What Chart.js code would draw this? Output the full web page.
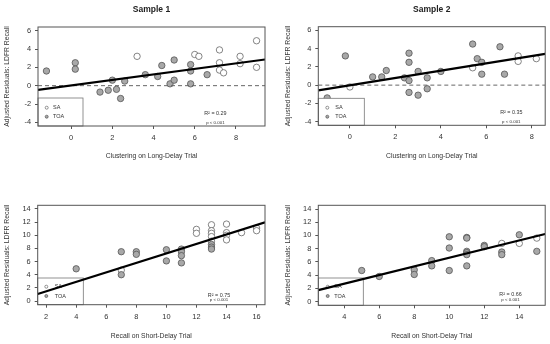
<!DOCTYPE html>
<html>
<head>
<meta charset="utf-8">
<script src="https://cdn.jsdelivr.net/npm/chart.js@4.4.1/dist/chart.umd.min.js"></script>
<style>
  body { margin: 0; background: #fff; }
  .panel { position: absolute; width: 275px; height: 172px; }
  canvas { display: block; }
</style>
</head>
<body>
<div class="panel" style="left:0;top:0"><canvas id="p1" width="275" height="172"></canvas></div>
<div class="panel" style="left:275px;top:0"><canvas id="p2" width="275" height="172"></canvas></div>
<div class="panel" style="left:0;top:172px"><canvas id="p3" width="275" height="172"></canvas></div>
<div class="panel" style="left:275px;top:172px"><canvas id="p4" width="275" height="172"></canvas></div>
<script>
// tick labels
const xTicksCluster = [0, 2, 4, 6, 8];
const yTicksCluster = [-4, -2, 0, 2, 4, 6];
const xTicksRecall1 = [2, 4, 6, 8, 10, 12, 14, 16];
const xTicksRecall2 = [4, 6, 8, 10, 12, 14];
const yTicksRecall = [0, 2, 4, 6, 8, 10, 12, 14];

// Sample 1 - clustering
const s1ClusterSA_x = [3.2, 6.0, 6.2, 7.2, 7.2, 7.2, 7.4, 8.2, 8.2, 9.0, 9.0];
const s1ClusterSA_y = [3.2, 3.4, 3.2, 3.9, 2.5, 1.7, 1.4, 3.2, 2.4, 4.9, 2.0];
const s1ClusterTOA_x = [-1.2, 0.2, 0.2, 1.4, 1.8, 2.0, 2.2, 2.4, 2.6, 3.6, 4.2, 4.4, 4.8, 5.0, 5.0, 5.8, 5.8, 5.8, 6.6];
const s1ClusterTOA_y = [1.6, 2.5, 1.8, -0.7, -0.5, 0.6, -0.4, -1.4, 0.5, 1.2, 1.0, 2.2, 0.2, 2.8, 0.6, 2.3, 1.6, 0.2, 1.2];

// Sample 2 - clustering
const s2ClusterSA_x = [0.0, 5.4, 7.4, 7.4, 8.2];
const s2ClusterSA_y = [-0.2, 1.9, 3.2, 2.6, 2.9];
const s2ClusterTOA_x = [-1.0, -0.2, 1.0, 1.4, 1.6, 2.4, 2.6, 2.6, 2.6, 2.6, 3.0, 3.0, 3.4, 3.4, 4.0, 5.4, 5.6, 5.8, 5.8, 6.6, 6.8];
const s2ClusterTOA_y = [-1.4, 3.2, 0.9, 0.9, 1.6, 0.8, 3.5, 2.5, 0.5, -0.8, 1.5, -1.1, 0.8, -0.4, 1.5, 4.5, 2.9, 2.5, 1.2, 4.2, 1.2];

// Sample 1 - short-delay recall
const s1RecallSA_x = [7, 12, 12, 13, 13, 13, 13, 13, 14, 14, 14, 14, 15, 16, 16];
const s1RecallSA_y = [4.7, 10.9, 10.3, 11.6, 10.7, 10.3, 9.8, 9.1, 11.7, 10.4, 10.0, 9.3, 10.4, 11.1, 10.7];
const s1RecallTOA_x = [4, 7, 7, 8, 8, 10, 10, 11, 11, 11, 11, 13, 13, 13];
const s1RecallTOA_y = [4.9, 7.5, 4.0, 7.5, 7.1, 7.8, 6.1, 7.9, 7.5, 6.9, 5.8, 8.6, 8.2, 7.9];

// Sample 2 - short-delay recall
const s2RecallSA_x = [13, 14, 15];
const s2RecallSA_y = [8.8, 8.8, 9.6];
const s2RecallTOA_x = [5, 6, 8, 8, 9, 9, 10, 10, 10, 11, 11, 11, 11, 11, 11, 12, 12, 13, 13, 14, 15];
const s2RecallTOA_y = [4.7, 3.8, 4.8, 4.1, 6.2, 5.4, 9.8, 8.1, 4.7, 9.7, 9.6, 7.6, 7.4, 7.1, 5.4, 8.5, 8.3, 7.5, 7.1, 10.1, 7.6];

// regression lines [intercept, slope]
const fit1 = [0.03, 0.30];
const fit2 = [-0.02, 0.40];
const fit3 = [0.04, 0.72];
const fit4 = [0.09, 0.654];

const rSquared = ['0.29', '0.35', '0.75', '0.66'];

Chart.defaults.font.family = '"Liberation Sans", Arial, sans-serif';
Chart.defaults.color = '#333';

const zip = (xs, ys) => xs.map((x, i) => ({x: x, y: ys[i]}));

const panelDecor = {
    id: 'panelDecor',
    afterDatasetDraw(chart, args, opts) {
        // legend sits over the points but under the fit line
        if (chart.data.datasets[args.index].role !== 'TOA') return;
        const a = chart.chartArea, ctx = chart.ctx, lg = opts.legend;
        const x0 = a.left, y0 = a.bottom - lg.h;
        ctx.save();
        ctx.fillStyle = '#fff';
        ctx.fillRect(x0, y0, lg.w, lg.h);
        ctx.strokeStyle = '#777';
        ctx.lineWidth = 0.8;
        ctx.strokeRect(x0, y0, lg.w, lg.h);
        const items = chart.data.datasets.filter(d => d.role === 'SA' || d.role === 'TOA');
        items.forEach((d, i) => {
            const cy = a.bottom - lg.rows[i];
            ctx.beginPath();
            ctx.arc(x0 + lg.symX, cy, 1.5, 0, Math.PI * 2);
            ctx.fillStyle = d.backgroundColor;
            ctx.fill();
            ctx.strokeStyle = d.borderColor;
            ctx.lineWidth = 0.7;
            ctx.stroke();
            ctx.fillStyle = '#333';
            ctx.font = '5.5px "Liberation Sans", Arial, sans-serif';
            ctx.textBaseline = 'middle';
            ctx.textAlign = 'left';
            ctx.fillText(d.label, x0 + lg.textX, cy);
        });
        ctx.restore();
    },
    afterDatasetsDraw(chart, args, opts) {
        const a = chart.chartArea, ctx = chart.ctx;
        const xs = chart.scales.x, ys = chart.scales.y;
        ctx.save();
        ctx.strokeStyle = '#555';
        ctx.lineWidth = 1;
        ctx.strokeRect(a.left, a.top, a.right - a.left, a.bottom - a.top);
        ctx.fillStyle = '#333';
        ctx.textAlign = 'center';
        ctx.textBaseline = 'middle';
        const px = xs.getPixelForValue(opts.note.x);
        ctx.font = '5.4px "Liberation Sans", Arial, sans-serif';
        ctx.fillText('R\u00b2 = ' + opts.note.r2, px, ys.getPixelForValue(opts.note.y1));
        ctx.font = '4.4px "Liberation Sans", Arial, sans-serif';
        ctx.fillText('p < 0.001', px, ys.getPixelForValue(opts.note.y2));
        ctx.restore();
    }
};

function makePanel(id, p) {
    const xLo = p.xRange[0], xHi = p.xRange[1];
    const datasets = [];
    datasets.push({
        role: 'fit', showLine: true, pointRadius: 0, borderColor: '#000', borderWidth: 2.2, order: 1,
        data: [{x: xLo, y: p.fit[0] + p.fit[1] * xLo}, {x: xHi, y: p.fit[0] + p.fit[1] * xHi}]
    });
    if (p.zeroLine) {
        datasets.push({
            role: 'zero', showLine: true, pointRadius: 0, borderColor: '#666', borderWidth: 1,
            borderDash: [4, 3], order: 2,
            data: [{x: xLo, y: 0}, {x: xHi, y: 0}]
        });
    }
    datasets.push({
        role: 'SA', label: 'SA', data: zip(p.saX, p.saY), order: 4,
        backgroundColor: '#ffffff', borderColor: '#666', pointRadius: 3.2, pointBorderWidth: 0.8
    });
    datasets.push({
        role: 'TOA', label: 'TOA', data: zip(p.toaX, p.toaY), order: 3,
        backgroundColor: '#a8a8a8', borderColor: '#555', pointRadius: 3.2, pointBorderWidth: 0.8
    });

    const g = p.box;
    new Chart(document.getElementById(id), {
        type: 'scatter',
        data: {datasets: datasets},
        options: {
            responsive: false,
            animation: false,
            devicePixelRatio: 1,
            events: [],
            layout: {padding: {left: 0, right: 275 - g.r, top: p.title ? 0 : g.t, bottom: 0}},
            plugins: {
                legend: {display: false},
                tooltip: {enabled: false},
                title: {
                    display: !!p.title, text: p.title || '', fullSize: false, color: '#222',
                    font: {size: 8.5, weight: 'bold'},
                    padding: {top: 4.4, bottom: g.t - 10.2 - 4.4}
                },
                panelDecor: {legend: p.legend, note: p.note}
            },
            scales: {
                x: {
                    type: 'linear', min: xLo, max: xHi,
                    afterFit: s => { s.height = 172 - g.b; },
                    afterBuildTicks: s => { s.ticks = p.xTicks.map(v => ({value: v})); },
                    grid: {drawOnChartArea: false, drawTicks: true, tickLength: 3, color: '#555'},
                    border: {display: false},
                    ticks: {font: {size: 7.4}, padding: 4.6, autoSkip: false, maxRotation: 0},
                    title: {display: true, text: p.xTitle, font: {size: 6.8}, color: '#333',
                        padding: {top: 0, bottom: p.xTitlePad}}
                },
                y: {
                    type: 'linear', min: p.yRange[0], max: p.yRange[1],
                    afterFit: s => { s.width = g.l; },
                    afterBuildTicks: s => { s.ticks = p.yTicks.map(v => ({value: v})); },
                    grid: {drawOnChartArea: false, drawTicks: true, tickLength: 3, color: '#555'},
                    border: {display: false},
                    ticks: {font: {size: 7.4}, padding: 4, autoSkip: false},
                    title: {display: true, text: 'Adjusted Residuals: LDFR Recall', font: {size: 6.8},
                        color: '#333', padding: {top: p.yTitlePad, bottom: 0}}
                }
            }
        },
        plugins: [panelDecor]
    });
}

makePanel('p1', {
    title: 'Sample 1', box: {l: 38, r: 265, t: 27, b: 126},
    xRange: [-1.61, 9.41], yRange: [-4.4, 6.4], xTicks: xTicksCluster, yTicks: yTicksCluster,
    saX: s1ClusterSA_x, saY: s1ClusterSA_y, toaX: s1ClusterTOA_x, toaY: s1ClusterTOA_y,
    fit: fit1, zeroLine: true, xTitle: 'Clustering on Long-Delay Trial', xTitlePad: 11.9, yTitlePad: 2.6,
    legend: {w: 45, h: 28, rows: [18.3, 9.3], symX: 8.7, textX: 15},
    note: {x: 7, y1: -3, y2: -4, r2: rSquared[0]}
});
makePanel('p2', {
    title: 'Sample 2', box: {l: 43.3, r: 270.7, t: 26.7, b: 125.3},
    xRange: [-1.39, 8.59], yRange: [-4.4, 6.4], xTicks: xTicksCluster, yTicks: yTicksCluster,
    saX: s2ClusterSA_x, saY: s2ClusterSA_y, toaX: s2ClusterTOA_x, toaY: s2ClusterTOA_y,
    fit: fit2, zeroLine: true, xTitle: 'Clustering on Long-Delay Trial', xTitlePad: 11.9, yTitlePad: 9.2,
    legend: {w: 46, h: 27, rows: [17.6, 8.6], symX: 9, textX: 17},
    note: {x: 7.1, y1: -3, y2: -4, r2: rSquared[1]}
});
makePanel('p3', {
    title: null, box: {l: 37.7, r: 265, t: 33.3, b: 132.7},
    xRange: [1.44, 16.56], yRange: [-0.56, 14.56], xTicks: xTicksRecall1, yTicks: yTicksRecall,
    saX: s1RecallSA_x, saY: s1RecallSA_y, toaX: s1RecallTOA_x, toaY: s1RecallTOA_y,
    fit: fit3, zeroLine: false, xTitle: 'Recall on Short-Delay Trial', xTitlePad: 3.9, yTitlePad: 2.6,
    legend: {w: 45.6, h: 26.7, rows: [18, 8.7], symX: 8.6, textX: 17},
    note: {x: 13.5, y1: 0.9, y2: 0.2, r2: rSquared[2]}
});
makePanel('p4', {
    title: null, box: {l: 43.3, r: 270.7, t: 33.3, b: 133.3},
    xRange: [2.52, 15.48], yRange: [-0.56, 14.56], xTicks: xTicksRecall2, yTicks: yTicksRecall,
    saX: s2RecallSA_x, saY: s2RecallSA_y, toaX: s2RecallTOA_x, toaY: s2RecallTOA_y,
    fit: fit4, zeroLine: false, xTitle: 'Recall on Short-Delay Trial', xTitlePad: 3.9, yTitlePad: 9.2,
    legend: {w: 45, h: 27.3, rows: [18.6, 9.3], symX: 9.4, textX: 16},
    note: {x: 13.5, y1: 1, y2: 0.25, r2: rSquared[3]}
});
</script>
</body>
</html>
